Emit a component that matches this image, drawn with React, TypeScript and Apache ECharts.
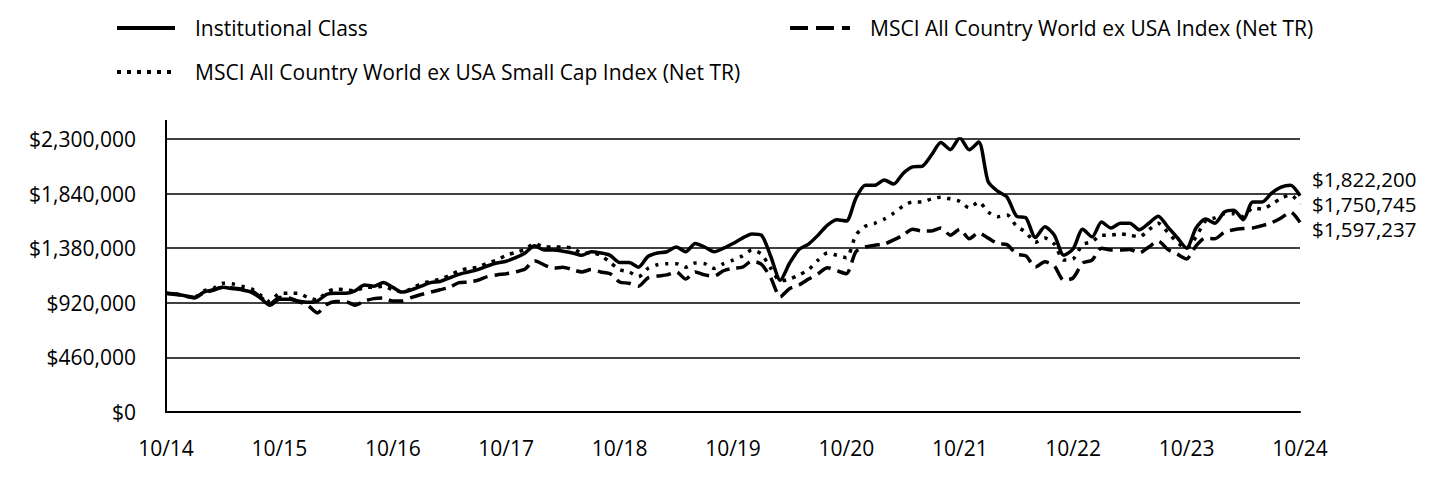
import React, { useEffect, useRef } from "react";
import * as echarts from "echarts";

// Monthly growth of $1,000,000, 10/2014 - 10/2024
const institutional = [
  1000000, 990000, 980000, 960000, 1010000, 1030000, 1050000, 1040000, 1030000, 1010000,
  960000, 900000, 950000, 950000, 935000, 925000, 935000, 990000, 1000000, 1000000,
  1020000, 1070000, 1060000, 1090000, 1050000, 1010000, 1030000, 1060000, 1090000, 1100000,
  1130000, 1160000, 1180000, 1200000, 1230000, 1255000, 1270000, 1300000, 1340000, 1400000,
  1365000, 1365000, 1355000, 1340000, 1320000, 1350000, 1340000, 1320000, 1260000, 1260000,
  1220000, 1310000, 1340000, 1350000, 1390000, 1350000, 1420000, 1390000, 1350000, 1380000,
  1420000, 1465000, 1500000, 1490000, 1310000, 1110000, 1255000, 1370000, 1415000, 1490000,
  1575000, 1620000, 1610000, 1800000, 1910000, 1910000, 1955000, 1920000, 2010000, 2065000,
  2070000, 2165000, 2270000, 2210000, 2310000, 2210000, 2275000, 1940000, 1860000, 1810000,
  1650000, 1635000, 1470000, 1560000, 1490000, 1320000, 1375000, 1540000, 1475000, 1600000,
  1550000, 1590000, 1590000, 1535000, 1590000, 1650000, 1560000, 1470000, 1380000, 1550000,
  1625000, 1590000, 1685000, 1700000, 1620000, 1770000, 1770000, 1845000, 1895000, 1910000,
  1822200,
];

const acwiExUsa = [
  1000000, 995000, 980000, 965000, 1005000, 1025000, 1050000, 1045000, 1035000, 1025000,
  970000, 910000, 965000, 960000, 930000, 900000, 835000, 905000, 930000, 930000,
  900000, 935000, 955000, 960000, 935000, 935000, 965000, 990000, 1010000, 1030000,
  1050000, 1090000, 1095000, 1110000, 1140000, 1155000, 1165000, 1180000, 1205000, 1275000,
  1240000, 1210000, 1220000, 1200000, 1180000, 1200000, 1180000, 1165000, 1095000, 1085000,
  1060000, 1130000, 1145000, 1155000, 1180000, 1120000, 1180000, 1155000, 1145000, 1190000,
  1210000, 1220000, 1270000, 1245000, 1130000, 970000, 1040000, 1070000, 1120000, 1165000,
  1215000, 1190000, 1165000, 1350000, 1390000, 1405000, 1415000, 1450000, 1490000, 1540000,
  1525000, 1525000, 1550000, 1490000, 1540000, 1460000, 1510000, 1465000, 1420000, 1410000,
  1330000, 1315000, 1220000, 1265000, 1230000, 1110000, 1130000, 1255000, 1280000, 1380000,
  1365000, 1365000, 1370000, 1340000, 1390000, 1440000, 1370000, 1330000, 1290000, 1400000,
  1465000, 1460000, 1515000, 1535000, 1545000, 1550000, 1570000, 1595000, 1635000, 1685000,
  1597237,
];

const acwiExUsaSmallCap = [
  1000000, 995000, 975000, 965000, 1020000, 1040000, 1085000, 1080000, 1060000, 1040000,
  985000, 930000, 1000000, 1000000, 1000000, 965000, 945000, 1010000, 1035000, 1030000,
  1020000, 1050000, 1050000, 1060000, 1030000, 1010000, 1040000, 1080000, 1100000, 1120000,
  1150000, 1190000, 1210000, 1220000, 1255000, 1280000, 1320000, 1345000, 1370000, 1420000,
  1390000, 1390000, 1390000, 1380000, 1340000, 1340000, 1320000, 1260000, 1200000, 1180000,
  1140000, 1210000, 1240000, 1250000, 1250000, 1220000, 1255000, 1250000, 1210000, 1250000,
  1280000, 1315000, 1365000, 1330000, 1210000, 1105000, 1120000, 1155000, 1200000, 1280000,
  1340000, 1320000, 1300000, 1490000, 1565000, 1590000, 1625000, 1675000, 1735000, 1770000,
  1770000, 1795000, 1810000, 1795000, 1775000, 1720000, 1770000, 1685000, 1645000, 1660000,
  1565000, 1515000, 1430000, 1465000, 1415000, 1280000, 1290000, 1410000, 1435000, 1490000,
  1490000, 1500000, 1490000, 1475000, 1535000, 1590000, 1515000, 1430000, 1380000, 1475000,
  1610000, 1635000, 1670000, 1670000, 1645000, 1720000, 1710000, 1750000, 1800000, 1830000,
  1750745,
];

const seriesNames = [
  "Institutional Class",
  "MSCI All Country World ex USA Index (Net TR)",
  "MSCI All Country World ex USA Small Cap Index (Net TR)",
];

// month categories 10/14 ... 10/24
const categories: string[] = [];
for (let i = 0; i < institutional.length; i++) {
  const m = ((9 + i) % 12) + 1;
  const y = 14 + Math.floor((9 + i) / 12);
  categories.push(`${m}/${y}`);
}

const FONT = '"Open Sans", "Noto Sans", sans-serif';
const FS = 21;
const fmtMoney = (v: number) => "$" + Math.round(v).toLocaleString("en-US");

export default function App() {
  const ref = useRef<HTMLDivElement>(null);
  useEffect(() => {
    document.body.style.margin = "0";
    if (!ref.current) return;
    const chart = echarts.init(ref.current, undefined, { renderer: "svg" });
    const endLabel = (dy: number) => ({
      show: true,
      formatter: (p: any) => fmtMoney(Array.isArray(p.value) ? p.value[1] : p.value),
      color: "#000",
      fontFamily: FONT,
      fontSize: 20.5,
      lineHeight: 22,
      distance: 5,
      offset: [7, dy],
    });
    chart.setOption({
      animation: false,
      backgroundColor: "#fff",
      grid: { left: 166, right: 140, top: 139, bottom: 68, containLabel: false },
      xAxis: {
        type: "category",
        data: categories,
        boundaryGap: false,
        axisLine: { show: true, lineStyle: { color: "#000", width: 2 } },
        axisTick: { show: false },
        splitLine: { show: false },
        axisLabel: {
          interval: 11,
          color: "#000",
          fontFamily: FONT,
          fontSize: FS,
          margin: 25,
        },
      },
      yAxis: {
        type: "value",
        min: 0,
        max: 2300000,
        interval: 460000,
        axisLine: { show: true, lineStyle: { color: "#000", width: 2 } },
        axisTick: { show: false },
        splitLine: { show: true, lineStyle: { color: "#404040", width: 2 } },
        axisLabel: {
          formatter: (v: number) => fmtMoney(v),
          color: "#000",
          fontFamily: FONT,
          fontSize: FS,
          margin: 30,
        },
      },
      series: [
        {
          name: seriesNames[0],
          type: "line",
          data: institutional,
          symbol: "none",
          smooth: 0.25,
          z: 5,
          lineStyle: { color: "#000", width: 3.5, type: "solid" },
          endLabel: endLabel(-17),
        },
        {
          name: seriesNames[1],
          type: "line",
          data: acwiExUsa,
          symbol: "none",
          smooth: 0.25,
          z: 3,
          lineStyle: { color: "#000", width: 3.5, type: [15, 7] },
          endLabel: endLabel(7),
        },
        {
          name: seriesNames[2],
          type: "line",
          data: acwiExUsaSmallCap,
          symbol: "none",
          smooth: 0.25,
          z: 4,
          lineStyle: { color: "#000", width: 3.5, type: [3.5, 6.5] },
          endLabel: endLabel(0),
        },
      ],
      graphic: [
        { type: "line", shape: { x1: 166, y1: 120, x2: 166, y2: 140 }, style: { stroke: "#000", lineWidth: 2 } },
        { type: "line", shape: { x1: 117, y1: 28, x2: 175, y2: 28 }, style: { stroke: "#000", lineWidth: 4 } },
        {
          type: "text", x: 195, y: 28,
          style: { text: seriesNames[0], fill: "#000", fontFamily: FONT, fontSize: FS, verticalAlign: "middle" },
        },
        { type: "line", shape: { x1: 790, y1: 28, x2: 850, y2: 28 }, style: { stroke: "#000", lineWidth: 4, lineDash: [18, 8] } },
        {
          type: "text", x: 870, y: 28,
          style: { text: seriesNames[1], fill: "#000", fontFamily: FONT, fontSize: FS, verticalAlign: "middle" },
        },
        { type: "line", shape: { x1: 117, y1: 72, x2: 175, y2: 72 }, style: { stroke: "#000", lineWidth: 4, lineDash: [4, 6] } },
        {
          type: "text", x: 195, y: 72,
          style: { text: seriesNames[2], fill: "#000", fontFamily: FONT, fontSize: FS, verticalAlign: "middle" },
        },
      ],
    });
    return () => chart.dispose();
  }, []);
  return <div ref={ref} style={{ width: 1440, height: 480 }} />;
}
